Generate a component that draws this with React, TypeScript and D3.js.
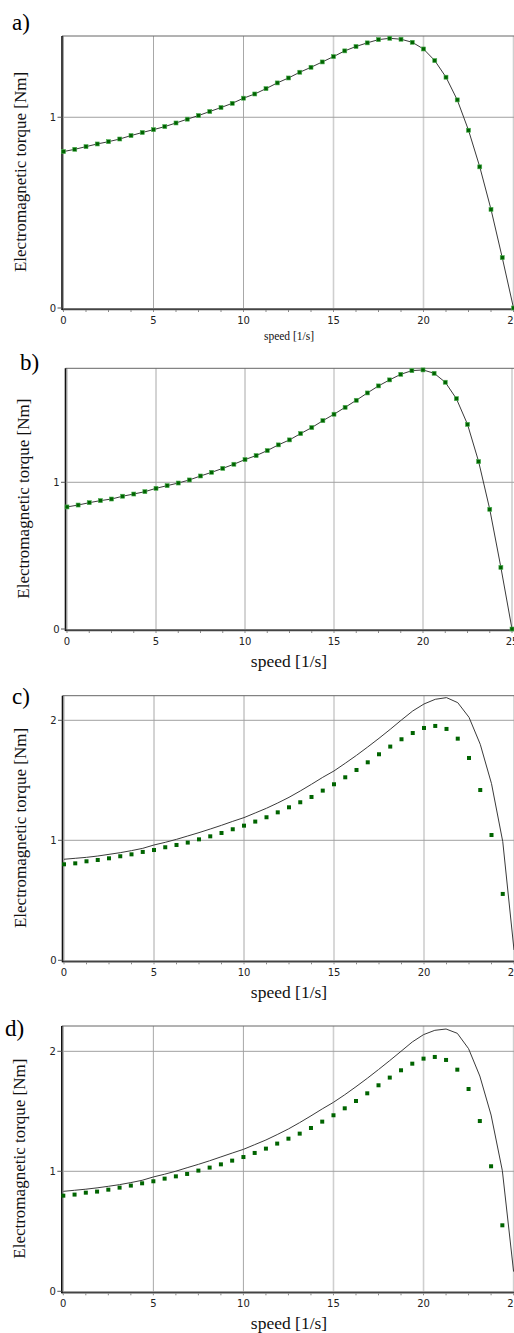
import { useEffect, useRef } from 'react';
import * as d3 from 'd3';

// speed samples [1/s]
const speed = [
  0, 0.625, 1.25, 1.875, 2.5, 3.125, 3.75, 4.375, 5, 5.625, 6.25, 6.875, 7.5, 8.125,
  8.75, 9.375, 10, 10.625, 11.25, 11.875, 12.5, 13.125, 13.75, 14.375, 15, 15.625,
  16.25, 16.875, 17.5, 18.125, 18.75, 19.375, 20, 20.625, 21.25, 21.875, 22.5,
  23.125, 23.75, 24.375, 25,
];

// a) torque [Nm]
const torqueA = [
  0.82, 0.832, 0.846, 0.86, 0.872, 0.886, 0.904, 0.92, 0.935, 0.951, 0.97, 0.99, 1.009,
  1.03, 1.051, 1.073, 1.1, 1.122, 1.15, 1.18, 1.206, 1.236, 1.262, 1.29, 1.318, 1.348,
  1.371, 1.39, 1.407, 1.414, 1.409, 1.393, 1.358, 1.297, 1.21, 1.091, 0.932, 0.74,
  0.517, 0.264, 0,
];

// b) torque [Nm]
const torqueB = [
  0.832, 0.845, 0.861, 0.875, 0.886, 0.905, 0.92, 0.936, 0.959, 0.977, 0.995, 1.016,
  1.043, 1.068, 1.095, 1.123, 1.155, 1.182, 1.216, 1.255, 1.289, 1.332, 1.373, 1.42,
  1.464, 1.511, 1.559, 1.609, 1.657, 1.698, 1.736, 1.761, 1.766, 1.743, 1.682, 1.57,
  1.395, 1.141, 0.816, 0.42, 0,
];

// c) model curve and measured points
const modelC = [
  0.842, 0.85, 0.858, 0.869, 0.883, 0.897, 0.914, 0.933, 0.961, 0.983, 1.008, 1.036,
  1.064, 1.094, 1.125, 1.158, 1.189, 1.228, 1.267, 1.311, 1.358, 1.411, 1.467, 1.525,
  1.578, 1.642, 1.708, 1.778, 1.85, 1.925, 2.003, 2.078, 2.136, 2.175, 2.189, 2.147,
  2.025, 1.8, 1.472, 0.989, 0.086,
];
const measuredC = [
  0.8, 0.808, 0.825, 0.836, 0.85, 0.867, 0.883, 0.903, 0.919, 0.942, 0.961, 0.981,
  1.008, 1.033, 1.061, 1.092, 1.122, 1.156, 1.192, 1.233, 1.275, 1.317, 1.361, 1.414,
  1.467, 1.525, 1.586, 1.65, 1.717, 1.781, 1.842, 1.894, 1.936, 1.953, 1.928, 1.847,
  1.686, 1.419, 1.044, 0.553,
];

// d) model curve and measured points
const modelD = [
  0.833, 0.842, 0.851, 0.862, 0.875, 0.889, 0.906, 0.925, 0.953, 0.976, 1.001, 1.03,
  1.058, 1.088, 1.12, 1.152, 1.183, 1.222, 1.261, 1.306, 1.353, 1.406, 1.462, 1.52,
  1.575, 1.638, 1.705, 1.775, 1.848, 1.923, 2.0, 2.078, 2.139, 2.175, 2.186, 2.15,
  2.022, 1.794, 1.469, 1.006, 0.164,
];
const measuredD = [
  0.797, 0.806, 0.822, 0.831, 0.847, 0.864, 0.881, 0.9, 0.917, 0.939, 0.958, 0.978,
  1.006, 1.031, 1.058, 1.089, 1.119, 1.153, 1.189, 1.231, 1.272, 1.314, 1.361, 1.414,
  1.467, 1.525, 1.586, 1.65, 1.717, 1.781, 1.842, 1.897, 1.939, 1.953, 1.928, 1.847,
  1.686, 1.419, 1.042, 0.55,
];

const xTicks = [0, 5, 10, 15, 20, 25];
const xMinorTicks = [1.25, 2.5, 3.75, 6.25, 7.5, 8.75, 11.25, 12.5, 13.75, 16.25, 17.5, 18.75, 21.25, 22.5, 23.75];

const panels = [
  { tag: 'a)', tagX: 12, tagY: 30, left: 63.5, right: 513.5, top: 36, zero: 308, yMax: 1.426,
    yTicks: [0, 1], model: torqueA, measured: torqueA, bigTitle: false, yTitleX: 26, outlined: true },
  { tag: 'b)', tagX: 20, tagY: 370, left: 67, right: 512, top: 368.3, zero: 629, yMax: 1.777,
    yTicks: [0, 1], model: torqueB, measured: torqueB, bigTitle: true, yTitleX: 29, outlined: true },
  { tag: 'c)', tagX: 12, tagY: 704, left: 64, right: 514, top: 695.7, zero: 960.3, yMax: 2.205,
    yTicks: [0, 1, 2], model: modelC, measured: measuredC, bigTitle: true, yTitleX: 26, outlined: false },
  { tag: 'd)', tagX: 5, tagY: 1036, left: 63.3, right: 513.6, top: 1026, zero: 1291.3, yMax: 2.211,
    yTicks: [0, 1, 2], model: modelD, measured: measuredD, bigTitle: true, yTitleX: 25, outlined: false },
];

export default function App() {
  const svgRef = useRef<SVGSVGElement>(null);

  useEffect(() => {
    const svg = d3.select(svgRef.current);
    svg.selectAll('*').remove();

    panels.forEach(p => {
      const g = svg.append('g');
      const x = d3.scaleLinear().domain([0, 25]).range([p.left, p.right]);
      const y = d3.scaleLinear().domain([0, p.yMax]).range([p.zero, p.top]);

      // grid
      g.selectAll('line.vgrid')
        .data(xTicks)
        .enter()
        .append('line')
        .attr('x1', d => x(d)).attr('x2', d => x(d))
        .attr('y1', p.top).attr('y2', p.zero)
        .attr('stroke', (d, i) => (i >= 3 ? '#cfcfcf' : '#a8a8a8'))
        .attr('stroke-width', (d, i) => (i >= 3 ? 1.6 : 1));

      g.selectAll('line.hgrid')
        .data(p.yTicks.filter(t => t > 0))
        .enter()
        .append('line')
        .attr('x1', p.left).attr('x2', 514)
        .attr('y1', d => y(d)).attr('y2', d => y(d))
        .attr('stroke', '#a0a0a0');

      // frame
      g.append('line')
        .attr('x1', p.left - 1.5).attr('x2', 514)
        .attr('y1', p.top).attr('y2', p.top)
        .attr('stroke', '#666').attr('stroke-width', 1);
      g.append('line')
        .attr('x1', p.left - 1.5).attr('x2', 514)
        .attr('y1', p.zero + 1.2).attr('y2', p.zero + 1.2)
        .attr('stroke', '#444').attr('stroke-width', 2);
      g.append('line')
        .attr('x1', p.left - 1.5).attr('x2', p.left - 1.5)
        .attr('y1', p.top).attr('y2', p.zero + 2)
        .attr('stroke', '#111').attr('stroke-width', 1.6);

      // ticks
      g.selectAll('line.xtick')
        .data(xTicks.concat(xMinorTicks))
        .enter()
        .append('line')
        .attr('x1', d => x(d)).attr('x2', d => x(d))
        .attr('y1', p.zero + 2).attr('y2', p.zero + 4)
        .attr('stroke', '#888');
      g.selectAll('text.xlab')
        .data(xTicks)
        .enter()
        .append('text')
        .attr('x', d => x(d))
        .attr('y', p.zero + 15.5)
        .attr('text-anchor', 'middle')
        .attr('font-family', 'DejaVu Sans, sans-serif')
        .attr('font-size', 10)
        .attr('fill', '#222')
        .text(d => d);

      g.selectAll('line.ytick')
        .data(p.yTicks)
        .enter()
        .append('line')
        .attr('x1', p.left - 6).attr('x2', p.left - 1.5)
        .attr('y1', d => y(d)).attr('y2', d => y(d))
        .attr('stroke', '#555');
      g.selectAll('text.ylab')
        .data(p.yTicks)
        .enter()
        .append('text')
        .attr('x', p.left - 7.5)
        .attr('y', d => y(d) + 3.5)
        .attr('text-anchor', 'end')
        .attr('font-family', 'DejaVu Sans, sans-serif')
        .attr('font-size', 10)
        .attr('fill', '#222')
        .text(d => d);

      // model curve
      const line = d3.line<number>()
        .x((d, i) => x(speed[i]))
        .y(d => y(d));
      g.append('path')
        .datum(p.model)
        .attr('d', line)
        .attr('fill', 'none')
        .attr('stroke', '#3a3a3a')
        .attr('stroke-width', 1);

      // measured points
      g.selectAll('rect.pt')
        .data(p.measured)
        .enter()
        .append('rect')
        .attr('x', (d, i) => x(speed[i]) - 2)
        .attr('y', d => y(d) - 2)
        .attr('width', 4)
        .attr('height', 4)
        .attr('fill', '#006400')
        .attr('stroke', p.outlined ? '#4caf50' : 'none')
        .attr('stroke-width', 0.6);

      // titles
      g.append('text')
        .attr('x', p.tagX)
        .attr('y', p.tagY)
        .attr('font-family', 'Liberation Serif, serif')
        .attr('font-size', 23)
        .text(p.tag);

      const midY = (p.top + p.zero) / 2;
      g.append('text')
        .attr('transform', `translate(${p.yTitleX},${midY}) rotate(-90)`)
        .attr('text-anchor', 'middle')
        .attr('font-family', 'Liberation Serif, serif')
        .attr('font-size', 17)
        .attr('fill', '#111')
        .text('Electromagnetic torque [Nm]');

      g.append('text')
        .attr('x', 289)
        .attr('y', p.bigTitle ? p.zero + 38 : p.zero + 32)
        .attr('text-anchor', 'middle')
        .attr('font-family', 'Liberation Serif, serif')
        .attr('font-size', p.bigTitle ? 17.5 : 11.5)
        .attr('fill', '#111')
        .text('speed [1/s]');
    });
  }, []);

  return (
    <svg
      ref={svgRef}
      width={514}
      height={1333}
      style={{ position: 'absolute', left: 0, top: 0, background: '#fff' }}
    />
  );
}
